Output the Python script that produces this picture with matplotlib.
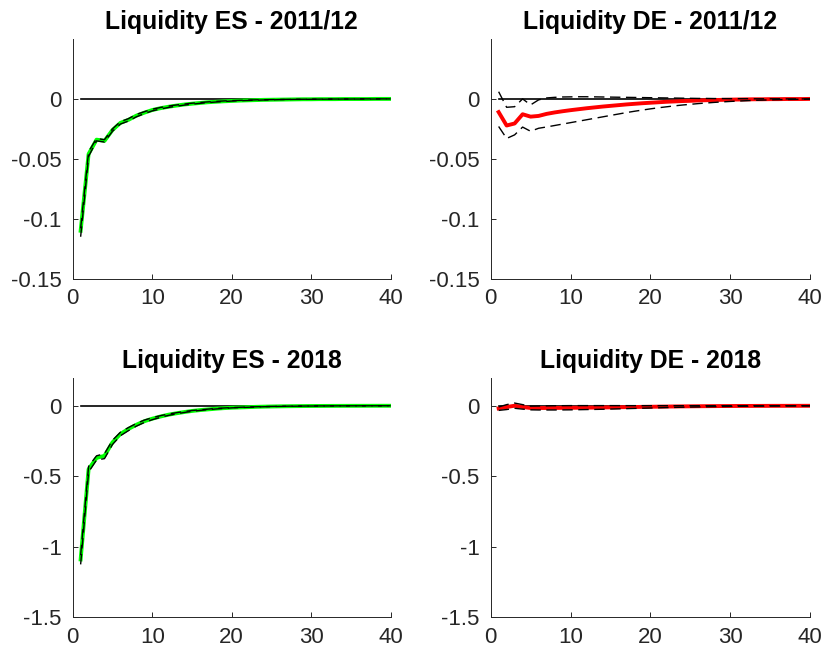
import numpy as np
import matplotlib
matplotlib.use("Agg")
import matplotlib.pyplot as plt

plt.rcParams['font.family'] = ['Liberation Sans', 'DejaVu Sans']

horizon = np.arange(1, 41)

titles = ['Liquidity ES - 2011/12', 'Liquidity DE - 2011/12',
          'Liquidity ES - 2018', 'Liquidity DE - 2018']

# Spain 2011/12
es11_mid = [-0.110, -0.046, -0.034, -0.035, -0.026, -0.020, -0.0175, -0.014, -0.0115, -0.0093,
            -0.0078, -0.0066, -0.0056, -0.0047, -0.0040, -0.0034, -0.0028, -0.0024, -0.0020, -0.0017,
            -0.0014, -0.0012, -0.0010, -0.0008, -0.0007, -0.0006, -0.0005, -0.0004, -0.0003, -0.0003,
            -0.0002, -0.0002, -0.0002, -0.0001, -0.0001, -0.0001, -0.0001, 0.0, 0.0, 0.0]
es11_lo = [-0.115, -0.048, -0.035, -0.036, -0.027, -0.021, -0.0185, -0.015, -0.0123, -0.0100,
           -0.0085, -0.0072, -0.0061, -0.0052, -0.0044, -0.0037, -0.0031, -0.0026, -0.0022, -0.0018,
           -0.0015, -0.0013, -0.0011, -0.0009, -0.0008, -0.0006, -0.0005, -0.0004, -0.0004, -0.0003,
           -0.0003, -0.0002, -0.0002, -0.0001, -0.0001, -0.0001, -0.0001, -0.0001, 0.0, 0.0]
es11_hi = [-0.108, -0.044, -0.033, -0.034, -0.025, -0.019, -0.0165, -0.013, -0.0107, -0.0086,
           -0.0072, -0.0060, -0.0051, -0.0043, -0.0036, -0.0030, -0.0025, -0.0021, -0.0017, -0.0014,
           -0.0012, -0.0010, -0.0008, -0.0007, -0.0006, -0.0005, -0.0004, -0.0003, -0.0003, -0.0002,
           -0.0002, -0.0001, -0.0001, -0.0001, -0.0001, 0.0, 0.0, 0.0, 0.0, 0.0]

# Germany 2011/12
de11_mid = [-0.011, -0.0222, -0.0205, -0.0128, -0.0148, -0.0142, -0.0125, -0.0113, -0.0103, -0.0094,
            -0.0086, -0.0078, -0.0071, -0.0064, -0.0058, -0.0052, -0.0046, -0.0041, -0.0036, -0.0032,
            -0.0028, -0.0024, -0.0021, -0.0018, -0.0016, -0.0013, -0.0011, -0.0009, -0.0008, -0.0006,
            -0.0005, -0.0004, -0.0003, -0.0003, -0.0002, -0.0002, -0.0001, -0.0001, -0.0001, 0.0]
de11_lo = [-0.023, -0.033, -0.030, -0.0235, -0.027, -0.0245, -0.0234, -0.0222, -0.0210, -0.0198,
           -0.0186, -0.0174, -0.0162, -0.0150, -0.0138, -0.0126, -0.0114, -0.0103, -0.0093, -0.0083,
           -0.0074, -0.0066, -0.0058, -0.0051, -0.0045, -0.0039, -0.0034, -0.0029, -0.0025, -0.0021,
           -0.0018, -0.0015, -0.0012, -0.0010, -0.0008, -0.0006, -0.0005, -0.0004, -0.0003, -0.0002]
de11_hi = [0.006, -0.007, -0.0065, 0.0, -0.005, -0.0008, 0.0008, 0.0013, 0.0016, 0.0017,
           0.0018, 0.0018, 0.0017, 0.0016, 0.0015, 0.0014, 0.0013, 0.0012, 0.0011, 0.0010,
           0.0009, 0.0008, 0.0007, 0.0006, 0.0005, 0.0004, 0.0004, 0.0003, 0.0003, 0.0002,
           0.0002, 0.0002, 0.0001, 0.0001, 0.0001, 0.0001, 0.0, 0.0, 0.0, 0.0]

# Spain 2018
es18_mid = [-1.09, -0.45, -0.37, -0.355, -0.26, -0.20, -0.165, -0.135, -0.11, -0.092,
            -0.077, -0.064, -0.054, -0.045, -0.037, -0.031, -0.026, -0.021, -0.017, -0.014,
            -0.012, -0.010, -0.008, -0.0065, -0.0053, -0.0043, -0.0035, -0.0028, -0.0023, -0.0018,
            -0.0015, -0.0012, -0.0010, -0.0008, -0.0006, -0.0005, -0.0004, -0.0003, -0.0002, -0.0002]
es18_lo = [-1.125, -0.47, -0.385, -0.375, -0.275, -0.213, -0.177, -0.145, -0.119, -0.099,
           -0.083, -0.069, -0.058, -0.048, -0.040, -0.033, -0.028, -0.023, -0.019, -0.015,
           -0.013, -0.011, -0.009, -0.007, -0.0058, -0.0047, -0.0038, -0.0031, -0.0025, -0.002,
           -0.0016, -0.0013, -0.0011, -0.0009, -0.0007, -0.0006, -0.0004, -0.0003, -0.0003, -0.0002]
es18_hi = [-1.06, -0.43, -0.355, -0.34, -0.245, -0.188, -0.155, -0.126, -0.102, -0.085,
           -0.071, -0.059, -0.050, -0.041, -0.034, -0.029, -0.024, -0.019, -0.016, -0.013,
           -0.011, -0.009, -0.0073, -0.006, -0.0048, -0.0039, -0.0032, -0.0026, -0.0021, -0.0017,
           -0.0014, -0.0011, -0.0009, -0.0007, -0.0006, -0.0005, -0.0004, -0.0003, -0.0002, -0.0002]

# Germany 2018
de18_mid = [-0.019, -0.009, 0.0, -0.009, -0.016, -0.016, -0.016, -0.0155, -0.015, -0.0145,
            -0.014, -0.0135, -0.013, -0.0122, -0.0115, -0.0105, -0.0097, -0.0088, -0.008, -0.0072,
            -0.0065, -0.0058, -0.0051, -0.0045, -0.004, -0.0035, -0.003, -0.0026, -0.0022, -0.0019,
            -0.0016, -0.0014, -0.0012, -0.001, -0.0008, -0.0007, -0.0006, -0.0005, -0.0004, -0.0003]
de18_lo = [-0.033, -0.027, -0.018, -0.024, -0.029, -0.030, -0.030, -0.030, -0.0295, -0.029,
           -0.028, -0.027, -0.026, -0.025, -0.0235, -0.022, -0.0205, -0.019, -0.0175, -0.016,
           -0.0145, -0.013, -0.0117, -0.0105, -0.0093, -0.0082, -0.0072, -0.0063, -0.0055, -0.0048,
           -0.0041, -0.0035, -0.003, -0.0026, -0.0022, -0.0018, -0.0015, -0.0013, -0.0011, -0.0009]
de18_hi = [-0.009, 0.008, 0.019, 0.008, -0.003, -0.002, -0.001, 0.0, 0.0005, 0.001,
           0.001, 0.001, 0.001, 0.001, 0.001, 0.0009, 0.0008, 0.0007, 0.0006, 0.0005,
           0.0005, 0.0004, 0.0004, 0.0003, 0.0003, 0.0003, 0.0002, 0.0002, 0.0002, 0.0001,
           0.0001, 0.0001, 0.0001, 0.0001, 0.0, 0.0, 0.0, 0.0, 0.0, 0.0]

panels = [
    (es11_mid, es11_lo, es11_hi, '#00ff00', (-0.15, 0.05), [-0.15, -0.1, -0.05, 0]),
    (de11_mid, de11_lo, de11_hi, '#ff0000', (-0.15, 0.05), [-0.15, -0.1, -0.05, 0]),
    (es18_mid, es18_lo, es18_hi, '#00ff00', (-1.5, 0.2), [-1.5, -1, -0.5, 0]),
    (de18_mid, de18_lo, de18_hi, '#ff0000', (-1.5, 0.2), [-1.5, -1, -0.5, 0]),
]

# axes boxes in figure fractions (left, bottom, width, height)
boxes = [
    (0.088, 0.5745, 0.385, 0.366),
    (0.594, 0.5745, 0.387, 0.366),
    (0.088, 0.0576, 0.385, 0.366),
    (0.594, 0.0576, 0.387, 0.366),
]

fig = plt.figure(figsize=(8.26, 6.55), dpi=100)
axis_grey = '#262626'

for (mid, lo, hi, col, ylim, yticks), box, title in zip(panels, boxes, titles):
    ax = fig.add_axes(box)
    ax.plot(horizon, np.zeros(len(horizon)), color='black', lw=1.2, zorder=1)
    ax.plot(horizon, mid, color=col, lw=2.8, zorder=2)
    ax.plot(horizon, lo, color='black', lw=1.0, dashes=(7.5, 4), zorder=3)
    ax.plot(horizon, hi, color='black', lw=1.0, dashes=(7.5, 4), zorder=3)

    ax.set_xlim(0, 40)
    ax.set_ylim(*ylim)
    ax.set_xticks([0, 10, 20, 30, 40])
    ax.set_yticks(yticks)
    ax.set_yticklabels([('%g' % t) for t in yticks])
    ax.set_title(title, fontsize=17.8, fontweight='bold', color='black', pad=7)

    for side in ['top', 'right']:
        ax.spines[side].set_visible(False)
    for side in ['left', 'bottom']:
        ax.spines[side].set_color(axis_grey)
        ax.spines[side].set_linewidth(0.7)
    ax.tick_params(direction='in', length=3.5, width=0.7, color=axis_grey,
                   labelcolor=axis_grey, labelsize=16)
    ax.tick_params(axis='y', pad=8)
    ax.tick_params(axis='x', pad=7)

fig.savefig('out.png', dpi=100)
